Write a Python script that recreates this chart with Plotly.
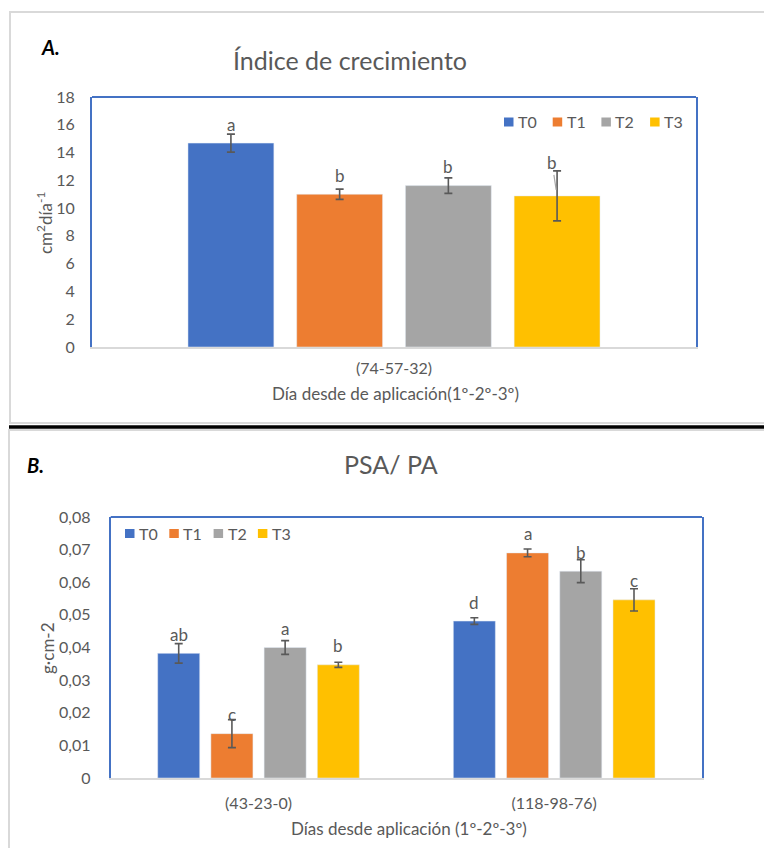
import plotly.graph_objects as go

# ---------------- data ----------------
series = ["T0", "T1", "T2", "T3"]
colors = ["#4472C4", "#ED7D31", "#A5A5A5", "#FFC000"]

a_categories = ["(74-57-32)"]
a_values = {"T0": [14.68], "T1": [11.0], "T2": [11.62], "T3": [10.88]}
a_errors = {"T0": [0.65], "T1": [0.37], "T2": [0.56], "T3": [1.8]}
a_letters = {"T0": ["a"], "T1": ["b"], "T2": ["b"], "T3": ["b"]}
a_ytick_vals = [0, 2, 4, 6, 8, 10, 12, 14, 16, 18]

b_categories = ["(43-23-0)", "(118-98-76)"]
b_values = {"T0": [0.0382, 0.0481], "T1": [0.0136, 0.0690],
            "T2": [0.0400, 0.0634], "T3": [0.0347, 0.0546]}
b_errors = {"T0": [0.0030, 0.0010], "T1": [0.0043, 0.0012],
            "T2": [0.0021, 0.0035], "T3": [0.0008, 0.0034]}
b_letters = {"T0": ["ab", "d"], "T1": ["c", "a"], "T2": ["a", "b"], "T3": ["b", "c"]}
b_ytick_vals = [0, 0.01, 0.02, 0.03, 0.04, 0.05, 0.06, 0.07, 0.08]
b_ytick_text = ["0", "0,01", "0,02", "0,03", "0,04", "0,05", "0,06", "0,07", "0,08"]

# ---------------- layout helpers ----------------
# the page body adds an 8px margin, so the figure is sized to fit the window
OFF = 8
W, H = 772 - OFF, 848 - OFF
def px(x):
    return (x - OFF) / W
def py(y):
    return 1 - (y - OFF) / H

FONT = "Lato, 'Open Sans', sans-serif"
GRAY_TXT = "#595959"
BLUE = "#4472C4"
BARGAP = 0.28
GROUPGAP = 0.21

fig = go.Figure()

for s, c in zip(series, colors):
    fig.add_trace(go.Bar(
        x=a_categories, y=a_values[s], name=s, marker_color=c,
        error_y=dict(type="data", array=a_errors[s], color=GRAY_TXT, thickness=1.6, width=4),
        xaxis="x", yaxis="y", offsetgroup=s, showlegend=False,
    ))
for s, c in zip(series, colors):
    fig.add_trace(go.Bar(
        x=b_categories, y=b_values[s], name=s, marker_color=c,
        error_y=dict(type="data", array=b_errors[s], color=GRAY_TXT, thickness=1.6, width=4),
        xaxis="x2", yaxis="y2", offsetgroup=s, showlegend=False,
    ))

tickfont = dict(family=FONT, size=16, color=GRAY_TXT)

annotations = []
shapes = []

# letter labels
slot = (1 - BARGAP) / len(series)
leader = {("A", 3): (-5, -33)}
for panel, cats, vals, letters, xr, yr in [
    ("A", a_categories, a_values, a_letters, "x", "y"),
    ("B", b_categories, b_values, b_letters, "x2", "y2"),
]:
    for i, s in enumerate(series):
        for ci in range(len(cats)):
            xpos = ci + (i - (len(series) - 1) / 2) * slot
            if (panel, i) in leader:
                ax_, ay_ = leader[(panel, i)]
                annotations.append(dict(
                    x=xpos, y=vals[s][ci], xref=xr, yref=yr, text=letters[s][ci],
                    showarrow=True, ax=ax_, ay=ay_, arrowhead=0, arrowwidth=1.2,
                    arrowcolor="#A6A6A6", standoff=6,
                    font=dict(family=FONT, size=17, color=GRAY_TXT)))
            else:
                annotations.append(dict(
                    x=xpos, y=vals[s][ci], xref=xr, yref=yr, text=letters[s][ci],
                    showarrow=False, yanchor="middle", yshift=19,
                    font=dict(family=FONT, size=17, color=GRAY_TXT)))

# titles & axis titles
def txt(x, y, text, size, color=GRAY_TXT, angle=0, xanchor="center"):
    annotations.append(dict(x=px(x), y=py(y), xref="paper", yref="paper", text=text,
                            showarrow=False, xanchor=xanchor, yanchor="middle",
                            textangle=angle, font=dict(family=FONT, size=size, color=color)))

txt(50, 47, "<b><i>A.</i></b>", 20, "#000000")
txt(350, 60, "Índice de crecimiento", 25)
txt(45, 223, "cm<sup>2</sup>día<sup>-1</sup>", 17, angle=-90)
txt(395, 394, "Día desde de aplicación(1º-2º-3º)", 17)

txt(36, 465, "<b><i>B.</i></b>", 20, "#000000")
txt(391, 464, "PSA/ PA", 25)
txt(47, 648, "g·cm-2", 17, angle=-90)
txt(409, 828, "Días desde aplicación (1º-2º-3º)", 17)

# legends (Excel style: small square right next to the label)
def legend_row(x_start, y_center, spacing):
    for i, (s, c) in enumerate(zip(series, colors)):
        x0 = x_start + i * spacing
        shapes.append(dict(type="rect", xref="paper", yref="paper",
                           x0=px(x0), x1=px(x0 + 9.5),
                           y0=py(y_center + 4.5), y1=py(y_center - 4.5),
                           fillcolor=c, line=dict(width=0)))
        txt(x0 + 12, y_center, s, 16, xanchor="left")

legend_row(504, 122, 48.7)
legend_row(125, 533.5, 44.3)

shapes += [
    # panel frames
    dict(type="rect", xref="paper", yref="paper", x0=px(10), x1=px(790), y0=py(423), y1=py(12),
         line=dict(color="#D9D9D9", width=2), layer="below"),
    dict(type="rect", xref="paper", yref="paper", x0=px(9), x1=px(790), y0=py(870), y1=py(430),
         line=dict(color="#D9D9D9", width=2), layer="below"),
    # separator
    dict(type="line", xref="paper", yref="paper", x0=px(9), x1=1.02, y0=py(427), y1=py(427),
         line=dict(color="#000000", width=3.5)),
    # top blue borders of plot areas
    dict(type="line", xref="x domain", yref="y domain", x0=0, x1=1, y0=1, y1=1,
         line=dict(color=BLUE, width=2)),
    dict(type="line", xref="x2 domain", yref="y2 domain", x0=0, x1=1, y0=1, y1=1,
         line=dict(color=BLUE, width=2)),
]

fig.update_layout(
    width=W, height=H, margin=dict(l=0, r=0, t=0, b=0, autoexpand=False),
    paper_bgcolor="white", plot_bgcolor="white",
    barmode="group", bargap=BARGAP, bargroupgap=GROUPGAP,
    separators=",.",
    showlegend=False,
    xaxis=dict(domain=[px(92), px(696)], anchor="y", type="category", automargin=False,
               showline=True, linecolor="#D9D9D9", linewidth=2, showgrid=False,
               ticks="", tickfont=tickfont, ticklabelstandoff=6, fixedrange=True),
    yaxis=dict(domain=[py(347), py(97)], anchor="x", range=[0, 18], tickvals=a_ytick_vals,
               automargin=False,
               showline=True, linecolor=BLUE, linewidth=2, mirror=True, showgrid=False,
               zeroline=False, ticks="", tickfont=tickfont, ticklabelstandoff=12),
    xaxis2=dict(domain=[px(110.7), px(702)], anchor="y2", type="category", automargin=False,
                showline=True, linecolor="#D9D9D9", linewidth=2, showgrid=False,
                ticks="", tickfont=tickfont, ticklabelstandoff=10),
    yaxis2=dict(domain=[py(778), py(517)], anchor="x2", range=[0, 0.08],
                tickvals=b_ytick_vals, ticktext=b_ytick_text, automargin=False,
                showline=True, linecolor=BLUE, linewidth=2, mirror=True, showgrid=False,
                zeroline=False, ticks="", tickfont=tickfont, ticklabelstandoff=15),
    annotations=annotations,
    shapes=shapes,
)

fig.write_html("out.html")
